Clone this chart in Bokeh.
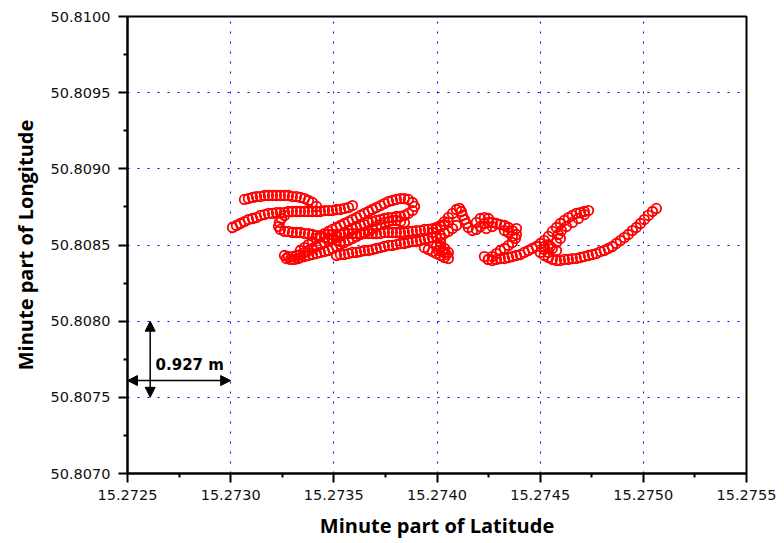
from bokeh.plotting import figure
from bokeh.models import (Range1d, FixedTicker, PrintfTickFormatter, Arrow,
                          NormalHead, Label)
from bokeh.embed import file_html
from bokeh.resources import INLINE

# ---- axis ticks -------------------------------------------------------
x_ticks = [15.2725, 15.2730, 15.2735, 15.2740, 15.2745, 15.2750, 15.2755]
y_ticks = [50.8070, 50.8075, 50.8080, 50.8085, 50.8090, 50.8095, 50.8100]

# ---- trajectory (minute part of latitude / longitude) ----
lat_s1 = [15.273067, 15.273086, 15.273106, 15.273125, 15.273144, 15.273164, 15.273183,
          15.273203, 15.273222, 15.273241, 15.273261, 15.273280, 15.273299, 15.273319,
          15.273338, 15.273358, 15.273377, 15.273396, 15.273416]
lon_s1 = [50.808799, 50.808805, 50.808812, 50.808818, 50.808818, 50.808825, 50.808825,
          50.808825, 50.808825, 50.808825, 50.808825, 50.808825, 50.808818, 50.808818,
          50.808812, 50.808805, 50.808792, 50.808779, 50.808753]

lat_s2 = [15.273009, 15.273028, 15.273047, 15.273067, 15.273086, 15.273106, 15.273125,
          15.273144, 15.273164, 15.273183, 15.273203, 15.273222, 15.273241, 15.273261,
          15.273280, 15.273299, 15.273319, 15.273338, 15.273358, 15.273377, 15.273396,
          15.273416, 15.273435, 15.273455, 15.273474, 15.273493, 15.273513, 15.273532,
          15.273551, 15.273571, 15.273590]
lon_s2 = [50.808615, 50.808628, 50.808641, 50.808654, 50.808667, 50.808674, 50.808680,
          50.808694, 50.808700, 50.808707, 50.808707, 50.808713, 50.808713, 50.808713,
          50.808720, 50.808720, 50.808720, 50.808720, 50.808720, 50.808720, 50.808720,
          50.808720, 50.808720, 50.808726, 50.808726, 50.808726, 50.808733, 50.808733,
          50.808740, 50.808746, 50.808759]

lat_s3 = [15.273261, 15.273246, 15.273236, 15.273232, 15.273241, 15.273261, 15.273280,
          15.273299, 15.273319, 15.273338, 15.273358, 15.273377, 15.273396, 15.273416,
          15.273435, 15.273455, 15.273474, 15.273493, 15.273513, 15.273532]
lon_s3 = [50.808694, 50.808674, 50.808648, 50.808621, 50.808602, 50.808589, 50.808589,
          50.808582, 50.808582, 50.808582, 50.808575, 50.808575, 50.808569, 50.808562,
          50.808556, 50.808549, 50.808543, 50.808536, 50.808529, 50.808523]

lat_s4 = [15.273338, 15.273358, 15.273377, 15.273396, 15.273416, 15.273435, 15.273455,
          15.273474, 15.273493, 15.273513, 15.273532, 15.273551, 15.273571, 15.273590,
          15.273610, 15.273629, 15.273648, 15.273668, 15.273687, 15.273706, 15.273726,
          15.273745, 15.273765, 15.273784, 15.273803, 15.273823, 15.273842, 15.273861,
          15.273881, 15.273891]
lon_s4 = [50.808464, 50.808483, 50.808503, 50.808523, 50.808543, 50.808562, 50.808575,
          50.808589, 50.808602, 50.808615, 50.808628, 50.808641, 50.808654, 50.808667,
          50.808680, 50.808694, 50.808707, 50.808720, 50.808733, 50.808746, 50.808759,
          50.808772, 50.808785, 50.808792, 50.808799, 50.808805, 50.808805, 50.808799,
          50.808779, 50.808753]

lat_s5 = [15.273881, 15.273861, 15.273842, 15.273823, 15.273803, 15.273784, 15.273765,
          15.273745, 15.273726, 15.273706, 15.273687, 15.273668, 15.273648, 15.273629,
          15.273610, 15.273590, 15.273571, 15.273551, 15.273532, 15.273513, 15.273493,
          15.273474, 15.273455, 15.273435, 15.273416, 15.273396, 15.273377, 15.273358,
          15.273338, 15.273319, 15.273299, 15.273280]
lon_s5 = [50.808726, 50.808707, 50.808694, 50.808687, 50.808687, 50.808680, 50.808680,
          50.808674, 50.808667, 50.808661, 50.808654, 50.808648, 50.808634, 50.808628,
          50.808615, 50.808608, 50.808595, 50.808582, 50.808569, 50.808556, 50.808543,
          50.808529, 50.808516, 50.808503, 50.808490, 50.808477, 50.808464, 50.808451,
          50.808437, 50.808431, 50.808424, 50.808424]

lat_s6 = [15.273338, 15.273358, 15.273377, 15.273396, 15.273416, 15.273435, 15.273455,
          15.273474, 15.273493, 15.273513, 15.273532, 15.273551, 15.273571, 15.273590,
          15.273610, 15.273629, 15.273648, 15.273668, 15.273687, 15.273706, 15.273726,
          15.273745, 15.273765, 15.273784, 15.273803, 15.273823, 15.273842]
lon_s6 = [50.808418, 50.808424, 50.808431, 50.808437, 50.808444, 50.808451, 50.808457,
          50.808464, 50.808477, 50.808490, 50.808503, 50.808516, 50.808529, 50.808543,
          50.808556, 50.808569, 50.808582, 50.808595, 50.808608, 50.808621, 50.808634,
          50.808648, 50.808654, 50.808661, 50.808661, 50.808654, 50.808648]

lat_s7 = [15.273474, 15.273493, 15.273513, 15.273532, 15.273551, 15.273571, 15.273590,
          15.273610, 15.273629, 15.273648, 15.273668, 15.273687, 15.273706, 15.273726,
          15.273745, 15.273765, 15.273784, 15.273803, 15.273823, 15.273842, 15.273861,
          15.273881, 15.273900, 15.273920, 15.273939, 15.273958, 15.273978, 15.273997,
          15.274017, 15.274036, 15.274055]
lon_s7 = [50.808569, 50.808569, 50.808569, 50.808569, 50.808575, 50.808575, 50.808575,
          50.808575, 50.808575, 50.808575, 50.808575, 50.808575, 50.808575, 50.808575,
          50.808582, 50.808582, 50.808582, 50.808582, 50.808582, 50.808582, 50.808589,
          50.808589, 50.808595, 50.808595, 50.808602, 50.808602, 50.808608, 50.808615,
          50.808621, 50.808634, 50.808648]

lat_s8 = [15.273513, 15.273532, 15.273551, 15.273571, 15.273590, 15.273610, 15.273629,
          15.273648, 15.273668, 15.273687, 15.273706, 15.273726, 15.273745, 15.273765,
          15.273784, 15.273803, 15.273823, 15.273842, 15.273861, 15.273881, 15.273900,
          15.273920, 15.273939, 15.273958, 15.273978, 15.273997, 15.274017, 15.274036,
          15.274055, 15.274075, 15.274094]
lon_s8 = [50.808431, 50.808437, 50.808437, 50.808444, 50.808451, 50.808451, 50.808457,
          50.808464, 50.808464, 50.808470, 50.808477, 50.808483, 50.808490, 50.808497,
          50.808497, 50.808503, 50.808510, 50.808510, 50.808516, 50.808523, 50.808523,
          50.808529, 50.808536, 50.808543, 50.808549, 50.808556, 50.808562, 50.808575,
          50.808589, 50.808608, 50.808628]

lat_s9 = [15.273261, 15.273270, 15.273290, 15.273309, 15.273328]
lon_s9 = [50.808431, 50.808411, 50.808405, 50.808405, 50.808411]

lat_s10 = [15.273939, 15.273958, 15.273978, 15.273997, 15.274017, 15.274036, 15.274055,
           15.274046, 15.274026, 15.274017, 15.274017, 15.274017]
lon_s10 = [50.808483, 50.808470, 50.808457, 50.808444, 50.808431, 50.808418, 50.808411,
           50.808437, 50.808464, 50.808490, 50.808516, 50.808543]

lat_s11 = [15.273978, 15.273997, 15.274017, 15.274036, 15.274055, 15.274075, 15.274094,
           15.274109, 15.274118, 15.274123, 15.274133, 15.274142, 15.274152, 15.274172,
           15.274191, 15.274210, 15.274230, 15.274249, 15.274268, 15.274288, 15.274307,
           15.274327, 15.274346, 15.274365, 15.274385, 15.274380, 15.274365, 15.274346,
           15.274327, 15.274307, 15.274288, 15.274268, 15.274249]
lon_s11 = [50.808582, 50.808602, 50.808628, 50.808654, 50.808680, 50.808707, 50.808733,
           50.808740, 50.808720, 50.808694, 50.808667, 50.808641, 50.808615, 50.808595,
           50.808602, 50.808621, 50.808641, 50.808648, 50.808648, 50.808641, 50.808634,
           50.808628, 50.808615, 50.808595, 50.808569, 50.808543, 50.808516, 50.808497,
           50.808477, 50.808464, 50.808444, 50.808424, 50.808405]

lat_s12 = [15.274230, 15.274249, 15.274268, 15.274288, 15.274307, 15.274327, 15.274346,
           15.274365, 15.274385, 15.274404, 15.274423, 15.274443, 15.274462, 15.274482,
           15.274501, 15.274520, 15.274540, 15.274559, 15.274579, 15.274598, 15.274617,
           15.274637, 15.274656, 15.274675, 15.274695, 15.274714, 15.274734]
lon_s12 = [50.808424, 50.808405, 50.808398, 50.808405, 50.808411, 50.808411, 50.808418,
           50.808424, 50.808431, 50.808437, 50.808451, 50.808464, 50.808477, 50.808490,
           50.808510, 50.808529, 50.808556, 50.808589, 50.808615, 50.808641, 50.808661,
           50.808680, 50.808694, 50.808707, 50.808713, 50.808720, 50.808726]

lat_s13 = [15.274714, 15.274685, 15.274656, 15.274627, 15.274603, 15.274588, 15.274598,
           15.274579, 15.274549, 15.274520, 15.274501, 15.274520, 15.274540, 15.274559,
           15.274579, 15.274598, 15.274617, 15.274637, 15.274656, 15.274675, 15.274695,
           15.274714, 15.274734, 15.274753, 15.274772, 15.274792, 15.274811, 15.274830,
           15.274850, 15.274869, 15.274889, 15.274908, 15.274927, 15.274947, 15.274966,
           15.274986, 15.275005, 15.275024, 15.275044, 15.275063]
lon_s13 = [50.808700, 50.808674, 50.808648, 50.808621, 50.808595, 50.808569, 50.808543,
           50.808516, 50.808490, 50.808470, 50.808451, 50.808431, 50.808418, 50.808405,
           50.808398, 50.808398, 50.808405, 50.808405, 50.808411, 50.808411, 50.808418,
           50.808424, 50.808431, 50.808437, 50.808444, 50.808457, 50.808464, 50.808477,
           50.808490, 50.808510, 50.808529, 50.808549, 50.808569, 50.808595, 50.808615,
           50.808641, 50.808667, 50.808694, 50.808720, 50.808740]

# extra fixes inside the dense blobs
lat_s14 = [15.273997, 15.274036, 15.274055, 15.274036, 15.274007,
           15.274191, 15.274210, 15.274230, 15.274249, 15.274268, 15.274239,
           15.274540, 15.274559, 15.274520, 15.274579, 15.274540,
           15.274346, 15.274365, 15.274327, 15.274385]
lon_s14 = [50.808490, 50.808477, 50.808451, 50.808451, 50.808464,
           50.808648, 50.808674, 50.808680, 50.808674, 50.808621, 50.808608,
           50.808503, 50.808477, 50.808490, 50.808464, 50.808451,
           50.808582, 50.808556, 50.808595, 50.808608]

lat = (lat_s1 + lat_s2 + lat_s3 + lat_s4 + lat_s5 + lat_s6 + lat_s7 + lat_s8 +
       lat_s9 + lat_s10 + lat_s11 + lat_s12 + lat_s13 + lat_s14)
lon = (lon_s1 + lon_s2 + lon_s3 + lon_s4 + lon_s5 + lon_s6 + lon_s7 + lon_s8 +
       lon_s9 + lon_s10 + lon_s11 + lon_s12 + lon_s13 + lon_s14)

scale_text = "0.927 m"

# ---- figure -----------------------------------------------------------
p = figure(width=784, height=543, output_backend="svg", toolbar_location=None,
           x_range=Range1d(x_ticks[0], x_ticks[-1]),
           y_range=Range1d(y_ticks[0], y_ticks[-1]),
           min_border_left=127, min_border_right=38,
           min_border_top=16, min_border_bottom=70)
p.background_fill_color = "white"
p.border_fill_color = "white"
p.outline_line_color = "black"
p.outline_line_width = 2

x_minor = [(a + b) / 2 for a, b in zip(x_ticks[:-1], x_ticks[1:])]
y_minor = [(a + b) / 2 for a, b in zip(y_ticks[:-1], y_ticks[1:])]
p.xaxis.ticker = FixedTicker(ticks=x_ticks, minor_ticks=x_minor)
p.yaxis.ticker = FixedTicker(ticks=y_ticks, minor_ticks=y_minor)
p.xgrid.ticker = FixedTicker(ticks=x_ticks)
p.ygrid.ticker = FixedTicker(ticks=y_ticks)

for ax in (p.xaxis[0], p.yaxis[0]):
    ax.formatter = PrintfTickFormatter(format="%.4f")
    ax.axis_line_width = 2
    ax.axis_line_color = "black"
    ax.major_tick_line_width = 2
    ax.minor_tick_line_width = 2
    ax.major_tick_line_color = "black"
    ax.minor_tick_line_color = "black"
    ax.major_tick_out = 9
    ax.major_tick_in = 0
    ax.minor_tick_out = 4
    ax.minor_tick_in = 0
    ax.major_label_text_font = "DejaVu Sans"
    ax.major_label_text_font_size = "14.5px"
    ax.major_label_text_color = "#111111"
    ax.axis_label_text_font = "Open Sans"
    ax.axis_label_text_font_style = "bold"
    ax.axis_label_text_font_size = "20px"
    ax.axis_label_text_color = "black"

p.xaxis.axis_label = "Minute part of Latitude"
p.yaxis.axis_label = "Minute part of Longitude"
p.xaxis.major_label_standoff = 7
p.xaxis.axis_label_standoff = 9
p.yaxis.major_label_standoff = 8
p.yaxis.axis_label_standoff = 9

for g in (p.xgrid[0], p.ygrid[0]):
    g.grid_line_color = "#0000ff"
    g.grid_line_width = 1
    g.grid_line_dash = "2 8"

p.scatter(lat, lon, marker="circle", size=9.5, line_color="#ff0000",
          fill_color=None, line_width=1.8)

# ---- scale annotation -------------------------------------------------
head = dict(size=10, fill_color="black", line_color="black", line_width=1)
p.add_layout(Arrow(start=NormalHead(**head), end=NormalHead(**head),
                   x_start=x_ticks[0], x_end=x_ticks[1],
                   y_start=50.80761, y_end=50.80761,
                   line_color="black", line_width=1.5))
p.add_layout(Arrow(start=NormalHead(**head), end=NormalHead(**head),
                   x_start=15.27261, x_end=15.27261,
                   y_start=y_ticks[2], y_end=y_ticks[1],
                   line_color="black", line_width=1.5))
p.add_layout(Label(x=15.272636, y=50.807715, text=scale_text,
                   text_font="DejaVu Sans", text_font_style="bold",
                   text_font_size="15px", text_baseline="middle",
                   text_align="left", text_color="black"))

open("out.html", "w").write(file_html(p, INLINE))
